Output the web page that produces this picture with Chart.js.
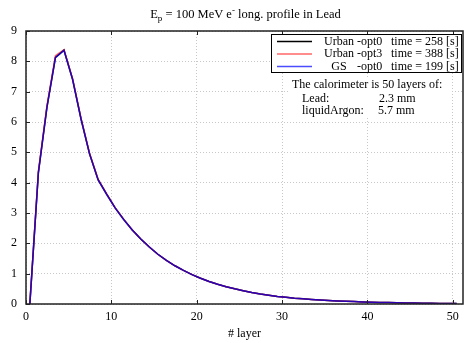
<!DOCTYPE html>
<html>
<head>
<meta charset="utf-8">
<script src="https://cdn.jsdelivr.net/npm/chart.js@4/dist/chart.umd.min.js"></script>
<style>
  html, body { margin: 0; padding: 0; background: #fff; }
  #wrap { width: 465px; height: 343px; }
</style>
</head>
<body>
<div id="wrap"><canvas id="c"></canvas></div>
<script>
// layer centres (x) and deposited energy per layer (y)
const layers = [0.45, 1.45, 2.45, 3.45, 4.45, 5.45, 6.45, 7.45, 8.45, 9.45,
  10.45, 11.45, 12.45, 13.45, 14.45, 15.45, 16.45, 17.45, 18.45, 19.45,
  20.45, 21.45, 22.45, 23.45, 24.45, 25.45, 26.45, 27.45, 28.45, 29.45,
  30.45, 31.45, 32.45, 33.45, 34.45, 35.45, 36.45, 37.45, 38.45, 39.45,
  40.45, 41.45, 42.45, 43.45, 44.45, 45.45, 46.45, 47.45, 48.45, 49.45, 50.45];

const urbanOpt0 = [0, 4.33, 6.48, 8.13, 8.37, 7.42, 6.1, 4.95, 4.1, 3.62,
  3.17, 2.79, 2.44, 2.14, 1.88, 1.64, 1.44, 1.26, 1.11, 0.97,
  0.85, 0.74, 0.65, 0.57, 0.5, 0.44, 0.38, 0.33, 0.29, 0.25,
  0.22, 0.19, 0.17, 0.15, 0.13, 0.115, 0.1, 0.09, 0.08, 0.07,
  0.06, 0.052, 0.046, 0.04, 0.035, 0.03, 0.026, 0.023, 0.02, 0.017, 0.015];

const urbanOpt3 = [0, 4.37, 6.53, 8.19, 8.38, 7.44, 6.12, 4.96, 4.11, 3.63,
  3.17, 2.79, 2.44, 2.14, 1.88, 1.64, 1.44, 1.26, 1.11, 0.97,
  0.85, 0.74, 0.65, 0.57, 0.5, 0.44, 0.38, 0.33, 0.29, 0.25,
  0.22, 0.19, 0.17, 0.15, 0.13, 0.115, 0.1, 0.09, 0.08, 0.07,
  0.06, 0.052, 0.046, 0.04, 0.035, 0.03, 0.026, 0.023, 0.02, 0.017, 0.015];

const gsOpt0 = [0, 4.32, 6.47, 8.12, 8.36, 7.41, 6.09, 4.94, 4.09, 3.61,
  3.16, 2.78, 2.44, 2.14, 1.88, 1.64, 1.44, 1.26, 1.11, 0.97,
  0.85, 0.74, 0.65, 0.57, 0.5, 0.44, 0.38, 0.33, 0.29, 0.25,
  0.22, 0.19, 0.17, 0.15, 0.13, 0.115, 0.1, 0.09, 0.08, 0.07,
  0.06, 0.052, 0.046, 0.04, 0.035, 0.03, 0.026, 0.023, 0.02, 0.017, 0.015];

const seriesNames = ['Urban', 'Urban', 'GS'];
const seriesOpts = ['-opt0', '-opt3', '-opt0'];
const seriesTimes = [258, 388, 199];
const seriesColors = ['#000000', 'rgba(255,0,0,0.6)', 'rgba(0,0,255,0.7)'];

const serif = '"Liberation Serif", "DejaVu Serif", serif';

const toPoints = ys => layers.map((x, i) => ({ x: x, y: ys[i] }));

// title, frame, inward ticks, legend and the calorimeter note
const decorPlugin = {
  id: 'decor',
  afterDatasetsDraw(chart) {
    const ctx = chart.ctx;
    const a = chart.chartArea;
    const xs = chart.scales.x, ys = chart.scales.y;
    ctx.save();

    // frame
    ctx.strokeStyle = '#222';
    ctx.lineWidth = 1.5;
    ctx.strokeRect(a.left, a.top, a.right - a.left, a.bottom - a.top);

    // inward ticks
    ctx.lineWidth = 1;
    xs.ticks.forEach(t => {
      const px = Math.round(xs.getPixelForValue(t.value)) + 0.5;
      ctx.beginPath();
      ctx.moveTo(px, a.bottom); ctx.lineTo(px, a.bottom - 4);
      ctx.moveTo(px, a.top); ctx.lineTo(px, a.top + 4);
      ctx.stroke();
    });
    ys.ticks.forEach(t => {
      const py = Math.round(ys.getPixelForValue(t.value)) + 0.5;
      ctx.beginPath();
      ctx.moveTo(a.left, py); ctx.lineTo(a.left + 4, py);
      ctx.stroke();
    });

    // title with sub/superscript
    ctx.fillStyle = '#000';
    ctx.textBaseline = 'alphabetic';
    const big = '12.5px ' + serif, small = '9px ' + serif;
    const parts = [
      ['E', big, 0], ['p', small, 3], [' = 100 MeV e', big, 0], ['-', small, -5],
      [' long. profile in Lead', big, 0]
    ];
    let w = 0;
    parts.forEach(p => { ctx.font = p[1]; w += ctx.measureText(p[0]).width; });
    let x = (a.left + a.right) / 2 - w / 2 + 1;
    parts.forEach(p => {
      ctx.font = p[1];
      ctx.fillText(p[0], x, 18 + p[2]);
      x += ctx.measureText(p[0]).width;
    });

    // legend box
    ctx.fillStyle = '#fff';
    ctx.fillRect(271, 34, 191, 39);
    ctx.strokeStyle = '#000';
    ctx.lineWidth = 1;
    ctx.strokeRect(271.5, 34.5, 190, 38);
    ctx.font = '12px ' + serif;
    ctx.textBaseline = 'middle';
    const rows = [41.5, 54, 66.5];
    rows.forEach((ry, i) => {
      ctx.strokeStyle = seriesColors[i];
      ctx.lineWidth = 1.5;
      ctx.beginPath();
      ctx.moveTo(277, ry); ctx.lineTo(312, ry);
      ctx.stroke();
      ctx.fillStyle = '#000';
      ctx.textAlign = 'center';
      ctx.fillText(seriesNames[i], 339, ry);
      ctx.textAlign = 'left';
      ctx.fillText(seriesOpts[i], 357, ry);
      ctx.fillText('time = ' + seriesTimes[i] + ' [s]', 391, ry);
    });

    // calorimeter note
    ctx.fillStyle = '#fff';
    ctx.fillRect(288, 77, 164, 40);
    ctx.fillStyle = '#000';
    ctx.textAlign = 'left';
    ctx.fillText('The calorimeter is 50 layers of:', 292, 85);
    ctx.fillText('Lead:', 302, 98.5);
    ctx.fillText('2.3 mm', 379, 98.5);
    ctx.fillText('liquidArgon:', 302, 110.5);
    ctx.fillText('5.7 mm', 378, 110.5);

    ctx.restore();
  }
};

new Chart(document.getElementById('c'), {
  type: 'line',
  data: {
    datasets: [
      { label: 'Urban -opt0', data: toPoints(urbanOpt0), borderColor: seriesColors[0], order: 3 },
      { label: 'Urban -opt3', data: toPoints(urbanOpt3), borderColor: seriesColors[1], order: 2 },
      { label: 'GS -opt0', data: toPoints(gsOpt0), borderColor: seriesColors[2], order: 1 }
    ].map(d => Object.assign(d, { borderWidth: 1.5, pointRadius: 0, tension: 0, fill: false }))
  },
  options: {
    responsive: true,
    maintainAspectRatio: false,
    animation: false,
    layout: { padding: { top: 31, right: 2, left: 0, bottom: 0 } },
    plugins: { legend: { display: false }, tooltip: { enabled: false } },
    scales: {
      x: {
        type: 'linear',
        min: 0,
        max: 51.2,
        afterBuildTicks(scale) {
          scale.ticks = [0, 10, 20, 30, 40, 50].map(v => ({ value: v }));
        },
        afterFit(scale) { scale.height = 39; },
        grid: { color: '#c8c8c8', drawTicks: false },
        border: { display: false, dash: [1, 2] },
        ticks: { color: '#000', padding: 6, maxRotation: 0, font: { family: serif, size: 12 } },
        title: { display: true, text: '# layer', color: '#000', padding: { top: 0, bottom: 2 }, font: { family: serif, size: 12 } }
      },
      y: {
        min: 0,
        max: 9,
        afterFit(scale) { scale.width = 26; },
        grid: { color: '#c8c8c8', drawTicks: false },
        border: { display: false, dash: [1, 2] },
        ticks: { color: '#000', stepSize: 1, padding: 9, font: { family: serif, size: 12 } }
      }
    }
  },
  plugins: [decorPlugin]
});
</script>
</body>
</html>
